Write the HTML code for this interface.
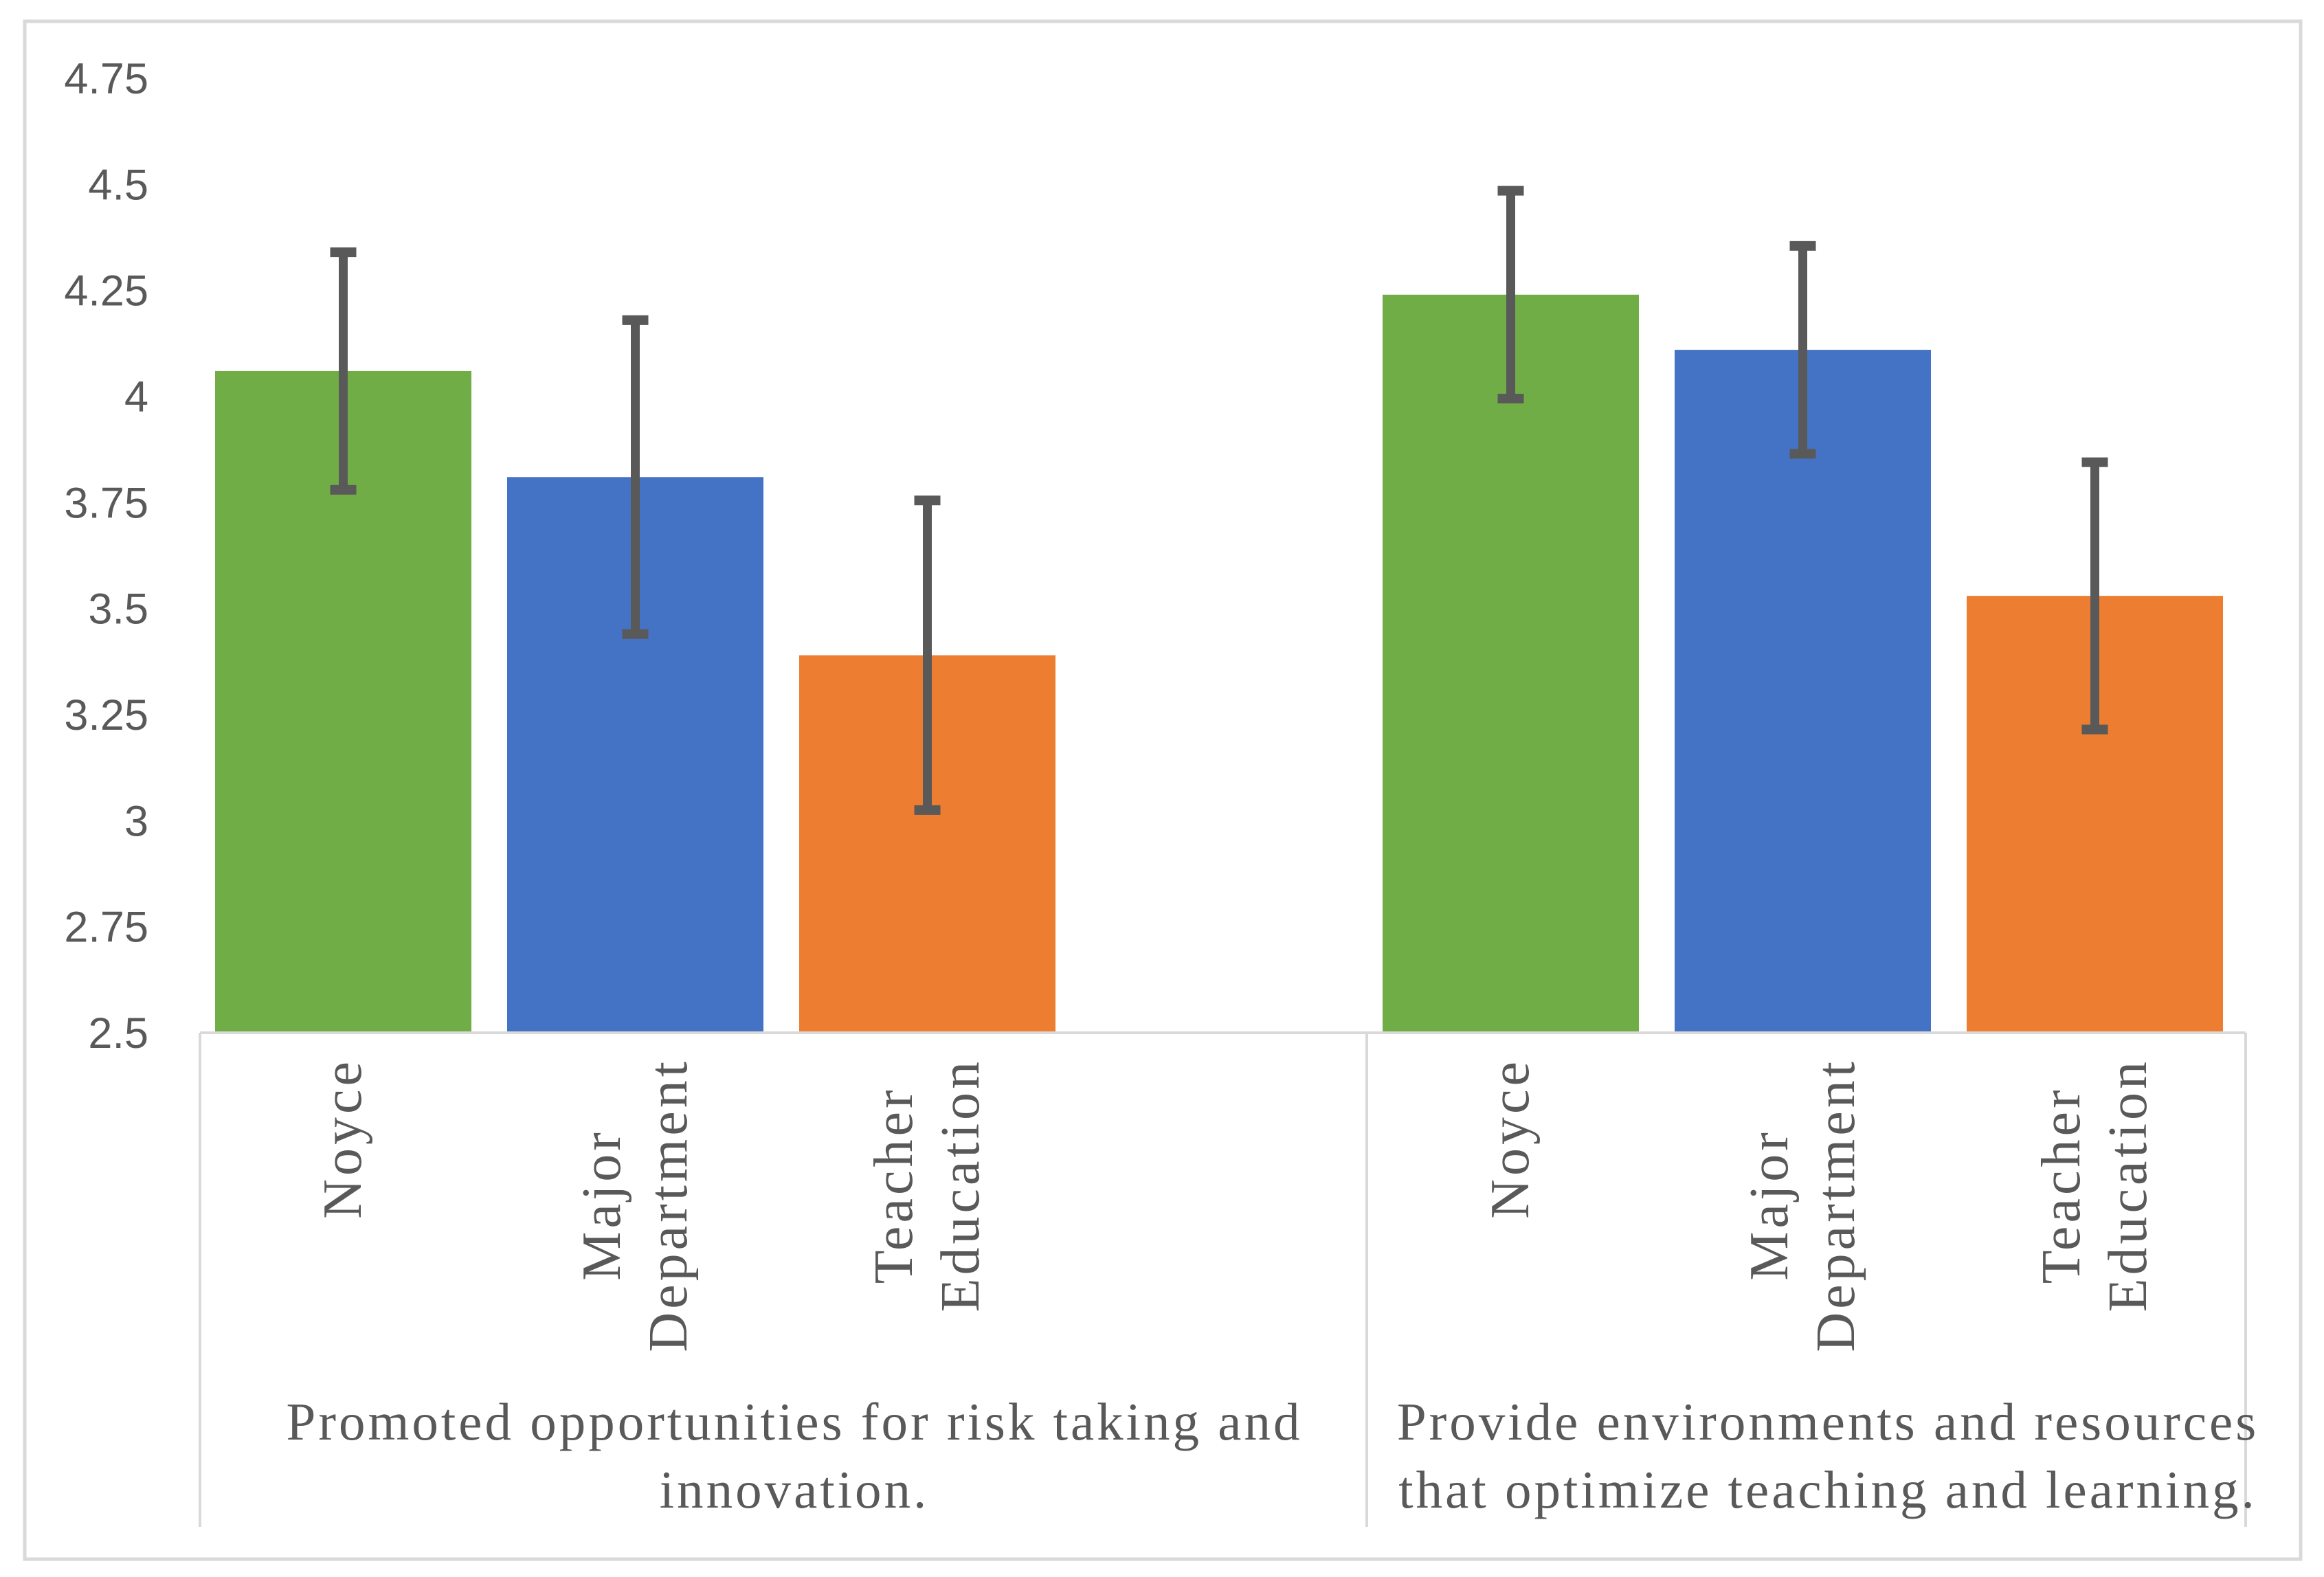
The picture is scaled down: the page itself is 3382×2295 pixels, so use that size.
<!DOCTYPE html>
<html><head><meta charset="utf-8"><style>
html,body{margin:0;padding:0;background:#fff;}
#wrap{position:relative;width:3382px;height:2295px;overflow:hidden;background:#fff;}
svg{position:absolute;left:0;top:0;}
.lbl{position:absolute;writing-mode:vertical-rl;transform:rotate(180deg);font-family:"Liberation Serif",serif;font-size:80px;line-height:97px;color:#595959;text-align:center;letter-spacing:5px;white-space:nowrap;}
.cat{position:absolute;font-family:"Liberation Serif",serif;font-size:77px;line-height:99px;color:#595959;text-align:center;letter-spacing:4px;white-space:nowrap;}
</style></head><body>
<div id="wrap">
<svg id="chart" width="3382" height="2295">
<rect x="36" y="31" width="3312" height="2238" fill="none" stroke="#D9D9D9" stroke-width="5"/>
<g id="bars"></g>
<g id="yticks"></g>
<line x1="291" y1="1503" x2="3268" y2="1503" stroke="#D9D9D9" stroke-width="4"/>
<line x1="291" y1="1503" x2="291" y2="2222" stroke="#D9D9D9" stroke-width="4"/>
<line x1="1989" y1="1503" x2="1989" y2="2222" stroke="#D9D9D9" stroke-width="4"/>
<line x1="3268" y1="1503" x2="3268" y2="2222" stroke="#D9D9D9" stroke-width="4"/>
</svg>
<div class="cat" style="left:1156px;top:2020px;transform:translateX(-50%);">Promoted opportunities for risk taking and<br>innovation.</div>
<div class="cat" style="left:2660px;top:2020px;transform:translateX(-50%);">Provide environments and resources<br>that optimize teaching and learning.</div>
</div>
<script>
const groups = ["Promoted opportunities for risk taking and innovation.", "Provide environments and resources that optimize teaching and learning."];
const seriesNames = ["Noyce", "Major Department", "Teacher Education"];
const noyce = [4.06, 4.24];
const majorDept = [3.81, 4.11];
const teacherEd = [3.39, 3.53];
const noyceErr = [0.28, 0.245];
const majorDeptErr = [0.37, 0.245];
const teacherEdErr = [0.365, 0.315];
const yTicks = [2.5, 2.75, 3, 3.25, 3.5, 3.75, 4, 4.25, 4.5, 4.75];
const yTickLabels = ["2.5", "2.75", "3", "3.25", "3.5", "3.75", "4", "4.25", "4.5", "4.75"];

const colors = ["#70AD47", "#4472C4", "#ED7D31"];
const labelLines = [["Noyce"], ["Major", "Department"], ["Teacher", "Education"]];
const NS = "http://www.w3.org/2000/svg";
function y(v){ return 1503 - (v - 2.5) / 2.25 * (1503 - 114); }
const groupStart = [313, 2012];
const pitch = 425, barW = 373;
function x(g, s){ return groupStart[g] + s * pitch; }

const yt = document.getElementById('yticks');
yTicks.forEach((v, i) => {
  const t = document.createElementNS(NS, 'text');
  
  
  t.setAttribute('x', 216);
  t.setAttribute('y', y(v) + 22);
  t.setAttribute('text-anchor', 'end');
  t.setAttribute('font-family', 'Liberation Sans, sans-serif');
  t.setAttribute('font-size', '63');
  t.setAttribute('fill', '#595959');
  t.textContent = yTickLabels[i];
  yt.appendChild(t);
});

const vals = [noyce, majorDept, teacherEd];
const errs = [noyceErr, majorDeptErr, teacherEdErr];
const bg = document.getElementById('bars');
const wrap = document.getElementById('wrap');
for (let g = 0; g < groups.length; g++) {
  for (let s = 0; s < 3; s++) {
    const v = vals[s][g], e = errs[s][g];
    const r = document.createElementNS(NS, 'rect');
    
    
    r.setAttribute('x', x(g, s));
    r.setAttribute('y', y(v));
    r.setAttribute('width', barW);
    r.setAttribute('height', 1503 - y(v));
    r.setAttribute('fill', colors[s]);
    bg.appendChild(r);
    const cx = x(g, s) + barW / 2;
    const st = document.createElementNS(NS, 'line');
    
    
    st.setAttribute('x1', cx); st.setAttribute('x2', cx);
    st.setAttribute('y1', y(v + e)); st.setAttribute('y2', y(v - e));
    st.setAttribute('stroke', '#595959'); st.setAttribute('stroke-width', '13');
    bg.appendChild(st);
    [v + e, v - e].forEach(ev => {
      const c = document.createElementNS(NS, 'rect');
      
      
      c.setAttribute('x', cx - 19); c.setAttribute('y', y(ev) - 7);
      c.setAttribute('width', 38); c.setAttribute('height', 14);
      c.setAttribute('fill', '#595959');
      bg.appendChild(c);
    });
    const d = document.createElement('div');
    
    
    d.className = 'lbl';
    d.innerHTML = labelLines[s].join('<br>');
    wrap.appendChild(d);
    const w = d.offsetWidth;
    d.style.left = (cx - w / 2) + 'px';
    d.style.top = '1540px';
  }
}
</script>
</body></html>
